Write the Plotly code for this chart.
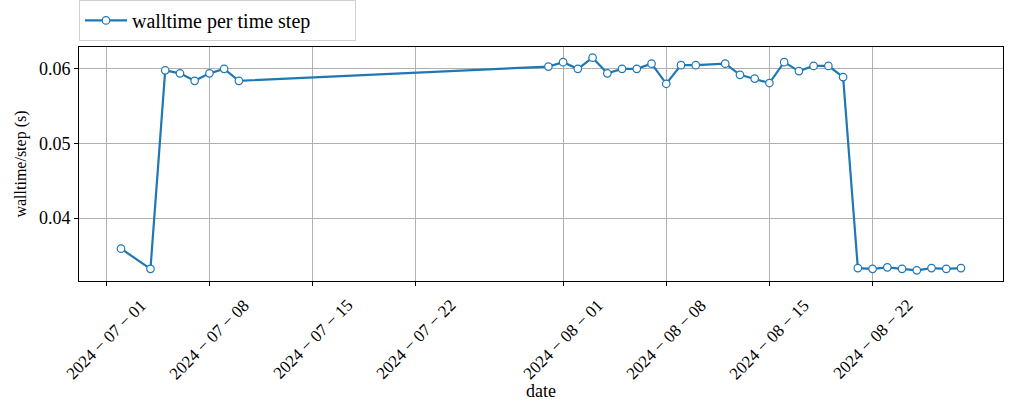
import plotly.graph_objects as go

# --- data ---
dates = [
    '2024-07-02', '2024-07-04', '2024-07-05', '2024-07-06', '2024-07-07',
    '2024-07-08', '2024-07-09', '2024-07-10',
    '2024-07-31', '2024-08-01', '2024-08-02', '2024-08-03', '2024-08-04',
    '2024-08-05', '2024-08-06', '2024-08-07', '2024-08-08', '2024-08-09',
    '2024-08-10', '2024-08-12', '2024-08-13', '2024-08-14', '2024-08-15',
    '2024-08-16', '2024-08-17', '2024-08-18', '2024-08-19', '2024-08-20',
    '2024-08-21', '2024-08-22', '2024-08-23', '2024-08-24', '2024-08-25',
    '2024-08-26', '2024-08-27', '2024-08-28',
]
walltime = [
    0.0359, 0.0332, 0.0598, 0.0594, 0.0584, 0.0594, 0.0600, 0.0584,
    0.0603, 0.0609, 0.0600, 0.0615, 0.0594, 0.0600, 0.0600, 0.0607,
    0.0580, 0.0605, 0.0605, 0.0607, 0.0592, 0.0587, 0.0581, 0.0609,
    0.0597, 0.0604, 0.0604, 0.0589,
    0.0333, 0.0332, 0.0334, 0.0332, 0.0330, 0.0333, 0.0332, 0.0333,
]
tick_dates = ['2024-07-01', '2024-07-08', '2024-07-15', '2024-07-22',
              '2024-08-01', '2024-08-08', '2024-08-15', '2024-08-22']
y_ticks = [0.04, 0.05, 0.06]

font_family = 'Liberation Serif, DejaVu Serif, serif'
blue = '#1f77b4'

fig = go.Figure()
fig.add_trace(go.Scatter(
    x=dates, y=walltime,
    mode='lines+markers',
    name='walltime per time step',
    line=dict(color=blue, width=2.2),
    marker=dict(symbol='circle', size=7.5, color='white',
                line=dict(color=blue, width=1.2)),
))

# date tick labels, rotated 45 deg and centred on the tick like matplotlib
tick_labels = [
    dict(x=d, xref='x', y=0, yref='paper', yshift=-12,
         text=d.replace('-', ' \u2212 '), textangle=-45,
         xanchor='center', yanchor='top', showarrow=False,
         font=dict(family=font_family, size=17, color='black'))
    for d in tick_dates
]

fig.update_layout(
    width=1011, height=411,
    margin=dict(l=79, r=8, t=47, b=130, autoexpand=False),
    paper_bgcolor='white', plot_bgcolor='white',
    font=dict(family=font_family, size=17, color='black'),
    showlegend=True,
    legend=dict(
        x=0, y=1.026, xanchor='left', yanchor='bottom',
        orientation='h',
        itemwidth=42, entrywidth=218,
        bordercolor='#d0d0d0', borderwidth=1,
        bgcolor='white',
        font=dict(family=font_family, size=20),
    ),
    annotations=tick_labels,
    xaxis=dict(
        type='date',
        range=['2024-06-29 03:36', '2024-08-30 20:24'],
        tickvals=tick_dates,
        showticklabels=False,
        showgrid=True, gridcolor='#b0b0b0', gridwidth=1,
        showline=True, linecolor='black', linewidth=1, mirror=True,
        ticks='outside', ticklen=4, tickcolor='black',
        zeroline=False, automargin=False,
        title=dict(text='date', font=dict(size=18), standoff=99),
    ),
    yaxis=dict(
        range=[0.03157, 0.06293],
        tickvals=y_ticks,
        ticktext=['%.2f' % v for v in y_ticks],
        tickfont=dict(size=18),
        showgrid=True, gridcolor='#b0b0b0', gridwidth=1,
        showline=True, linecolor='black', linewidth=1, mirror=True,
        ticks='outside', ticklen=4, tickcolor='black',
        zeroline=False, automargin=False,
        title=dict(text='walltime/step (s)', font=dict(size=16), standoff=8),
    ),
)

# drop the browser's default body margin so the figure sits at 0,0
fig.write_html('out.html', config={'displayModeBar': False},
               post_script="document.body.style.margin='0';")
